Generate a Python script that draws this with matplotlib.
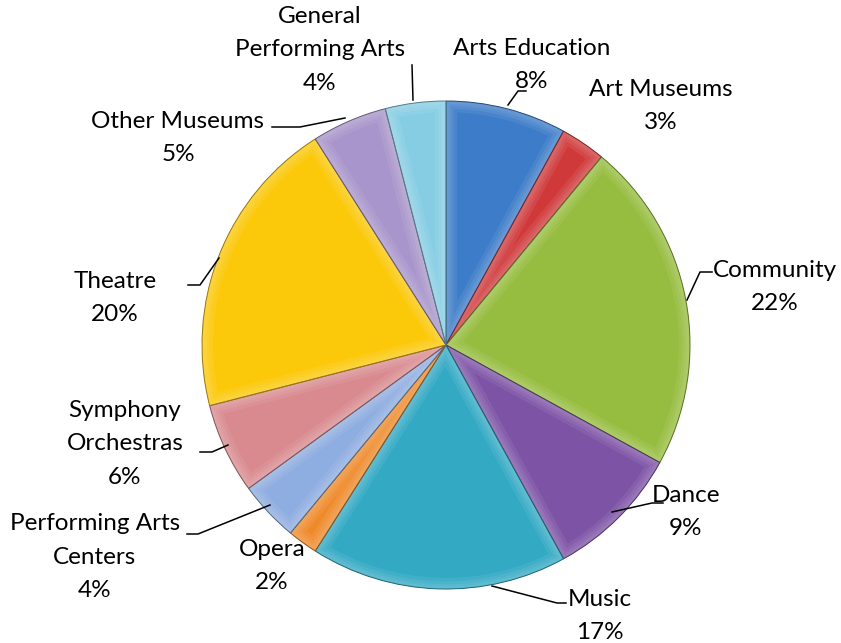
import matplotlib.pyplot as plt
from matplotlib.patches import Wedge
from matplotlib.colors import to_rgb

# Share of grants by discipline (percent), clockwise from 12 o'clock
categories = ['Arts Education', 'Art Museums', 'Community', 'Dance', 'Music',
              'Opera', 'Performing Arts Centers', 'Symphony Orchestras',
              'Theatre', 'Other Museums', 'General Performing Arts']
shares = [8, 3, 22, 9, 17, 2, 4, 6, 20, 5, 4]
label_text = ['Arts Education\n8%', 'Art Museums\n3%', 'Community\n22%',
              'Dance\n9%', 'Music\n17%', 'Opera\n2%',
              'Performing Arts\nCenters\n4%', 'Symphony\nOrchestras\n6%',
              'Theatre\n20%', 'Other Museums\n5%',
              'General\nPerforming Arts\n4%']
colors = ['#3D7CC9', '#D0393A', '#96BD3F', '#7D53A6', '#33A9C4', '#EE8A2A',
          '#8EADE0', '#D98A8F', '#FBC80A', '#A895CB', '#86CDE4']

plt.rcParams['font.family'] = ['Lato', 'DejaVu Sans']

W, H = 841, 643
fig = plt.figure(figsize=(W / 100, H / 100), dpi=100)
ax = fig.add_axes([0, 0, 1, 1])

# y axis runs downward, so the pie starts at -90 and turns "counterclock"
# in data space to read clockwise from the top on screen
cx, cy, r = 446, 345, 244
wedges, _ = ax.pie(shares, colors=colors, startangle=-90, counterclock=True,
                   center=(cx, cy), radius=r, frame=True,
                   wedgeprops=dict(edgecolor='none', linewidth=0))

# soft bevel: stacked light bands inside each wedge's outline
for w, c in zip(wedges, colors):
    rgb = to_rgb(c)
    light = tuple(v + (1 - v) * 0.45 for v in rgb)
    dark = tuple(v * 0.6 for v in rgb)
    for lw in (16, 11, 7, 4):
        band = Wedge(w.center, w.r, w.theta1, w.theta2, facecolor='none',
                     edgecolor=light, linewidth=lw, alpha=0.16)
        ax.add_patch(band)
        band.set_clip_path(w)
    ax.add_patch(Wedge(w.center, w.r, w.theta1, w.theta2, facecolor='none',
                       edgecolor=dark, linewidth=0.7))

ax.set_xlim(0, W)
ax.set_ylim(H, 0)
ax.set_aspect('equal')
ax.axis('off')

# label centres and leader lines (pixel coordinates, y down)
label_pos = [(532, 65), (661, 106), (775, 287), (686, 512), (600, 616),
             (272, 566), (95, 557), (125, 444), (115, 298), (178, 138),
             (320, 50)]
leaders = [
    [(508, 105), (518, 91), (526, 91)],
    None,
    [(687, 300), (700, 272), (712, 272)],
    [(612, 512), (652, 503), (663, 503)],
    [(492, 586), (557, 603), (566, 603)],
    None,
    [(270, 505), (198, 534), (187, 534)],
    [(228, 445), (212, 452), (200, 452)],
    [(219, 258), (200, 285), (188, 285)],
    [(345, 118), (300, 127), (272, 127)],
    [(413, 100), (412, 65)],
]

for txt, (x, y), pts in zip(label_text, label_pos, leaders):
    ax.text(x, y, txt, ha='center', va='center', fontsize=17.5,
            linespacing=1.72, color='black')
    if pts:
        xs, ys = zip(*pts)
        ax.plot(xs, ys, color='black', linewidth=1.1)

fig.savefig('out.png', dpi=100)
